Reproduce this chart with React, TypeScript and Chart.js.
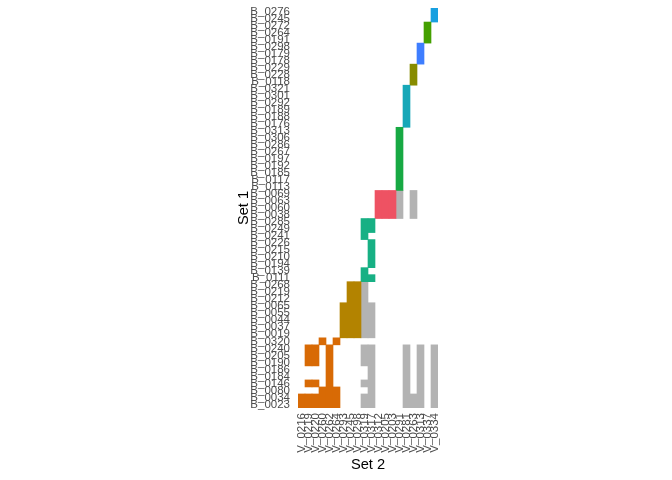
import React, { useEffect, useRef } from "react";
import { Chart, registerables } from "chart.js";

Chart.register(...registerables);

const FONT = "'Liberation Sans', Arial, Helvetica, sans-serif";

const rowLabels = [
  "B_0276", "B_0245", "B_0272", "B_0264", "B_0191", "B_0298", "B_0179", "B_0178",
  "B_0229", "B_0228", "B_0118", "B_0321", "B_0301", "B_0292", "B_0189", "B_0188",
  "B_0176", "B_0313", "B_0306", "B_0286", "B_0267", "B_0197", "B_0192", "B_0185",
  "B_0117", "B_0113", "B_0069", "B_0063", "B_0060", "B_0038", "B_0285", "B_0249",
  "B_0241", "B_0226", "B_0215", "B_0210", "B_0194", "B_0139", "B_0111", "B_0268",
  "B_0219", "B_0212", "B_0065", "B_0055", "B_0044", "B_0037", "B_0019", "B_0320",
  "B_0240", "B_0205", "B_0190", "B_0186", "B_0184", "B_0146", "B_0080", "B_0034",
  "B_0023",
];

const colLabels = [
  "V_0216", "V_0219", "V_0220", "V_0260", "V_0262", "V_0264", "V_0293", "V_0245",
  "V_0298", "V_0319", "V_0317", "V_0312", "V_0205", "V_0203", "V_0291", "V_0281",
  "V_0263", "V_0313", "V_0337", "V_0334",
];

// one string per row (top to bottom), one character per column
const cellGrid = [
  "...................J",
  "...................J",
  "..................I.",
  "..................I.",
  "..................I.",
  ".................H..",
  ".................H..",
  ".................H..",
  "................G...",
  "................G...",
  "................G...",
  "...............F....",
  "...............F....",
  "...............F....",
  "...............F....",
  "...............F....",
  "...............F....",
  "..............E.....",
  "..............E.....",
  "..............E.....",
  "..............E.....",
  "..............E.....",
  "..............E.....",
  "..............E.....",
  "..............E.....",
  "..............E.....",
  "...........DDDg.g...",
  "...........DDDg.g...",
  "...........DDDg.g...",
  "...........DDDg.g...",
  ".........CC.........",
  ".........CC.........",
  ".........C..........",
  "..........C.........",
  "..........C.........",
  "..........C.........",
  "..........C.........",
  ".........C..........",
  ".........CC.........",
  ".......BBg..........",
  ".......BBg..........",
  ".......BBg..........",
  "......BBBgg.........",
  "......BBBgg.........",
  "......BBBgg.........",
  "......BBBgg.........",
  "......BBBgg.........",
  "...A.A..............",
  ".AA.A....gg....g.g.g",
  ".AA.A....gg....g.g.g",
  ".AA.A....gg....g.g.g",
  "....A.....g....g.g.g",
  "....A.....g....g.g.g",
  ".AA.A....gg....g.g.g",
  "...AAA....g....g.g.g",
  "AAAAAA...gg....ggg.g",
  "AAAAAA...gg....ggg.g",
];

const clusterCodes = ["A", "B", "C", "D", "E", "F", "G", "H", "I", "J", "g"];
const clusterColors = [
  "#D86A05", "#B38300", "#17B084", "#EE5263", "#17A943", "#17A8B8",
  "#878C00", "#3E7EFF", "#44A000", "#18A0E0", "#B3B3B3",
];

function buildDatasets() {
  return clusterCodes.map((code, k) => {
    const data: { x: string; y: [number, number] }[] = [];
    for (let c = 0; c < colLabels.length; c++) {
      let r = 0;
      while (r < rowLabels.length) {
        if (cellGrid[r][c] === code) {
          let e = r;
          while (e + 1 < rowLabels.length && cellGrid[e + 1][c] === code) e++;
          data.push({ x: colLabels[c], y: [r, e + 1] });
          r = e + 1;
        } else {
          r++;
        }
      }
    }
    return {
      label: code,
      data,
      backgroundColor: clusterColors[k],
      borderWidth: 0,
      grouped: false,
      categoryPercentage: 1,
      barPercentage: 1,
    };
  });
}

export default function App() {
  const ref = useRef<HTMLCanvasElement | null>(null);

  useEffect(() => {
    if (!ref.current) return;
    const chart = new Chart(ref.current, {
      type: "bar",
      data: { labels: colLabels, datasets: buildDatasets() as any },
      options: {
        animation: false,
        responsive: false,
        layout: { padding: { left: 231, right: 234, top: 8, bottom: 0 } },
        plugins: { legend: { display: false }, tooltip: { enabled: false } },
        scales: {
          x: {
            type: "category",
            offset: true,
            grid: { display: false, drawTicks: false },
            border: { display: false },
            ticks: {
              autoSkip: false,
              minRotation: 90,
              maxRotation: 90,
              padding: 5,
              color: "#4D4D4D",
              font: { family: FONT, size: 11.5 },
            },
            title: {
              display: true,
              text: "Set 2",
              color: "#000000",
              font: { family: FONT, size: 14.67 },
              padding: { top: 4, bottom: 6 },
            },
            afterFit: (s: any) => {
              s.height = 72;
              s.paddingLeft = 0;
              s.paddingRight = 0;
            },
          },
          y: {
            type: "linear",
            min: 0,
            max: rowLabels.length,
            reverse: true,
            grid: { display: false, drawTicks: false },
            border: { display: false },
            afterBuildTicks: (s: any) => {
              s.ticks = rowLabels.map((_, i) => ({ value: i + 0.5 }));
            },
            ticks: {
              autoSkip: false,
              padding: 8,
              color: "#4D4D4D",
              font: { family: FONT, size: 11.5 },
              callback: (v: any) => rowLabels[Math.round(Number(v) - 0.5)],
            },
            title: {
              display: true,
              text: "Set 1",
              color: "#000000",
              font: { family: FONT, size: 14.67 },
              padding: { top: 4, bottom: 4 },
            },
            afterFit: (s: any) => {
              s.width = 67;
              s.paddingTop = 0;
              s.paddingBottom = 0;
            },
          },
        },
      } as any,
    });
    return () => chart.destroy();
  }, []);

  return (
    <div style={{ position: "absolute", left: 0, top: 0, width: 672, height: 480, background: "#fff" }}>
      <canvas ref={ref} width={672} height={480} style={{ display: "block" }} />
    </div>
  );
}
